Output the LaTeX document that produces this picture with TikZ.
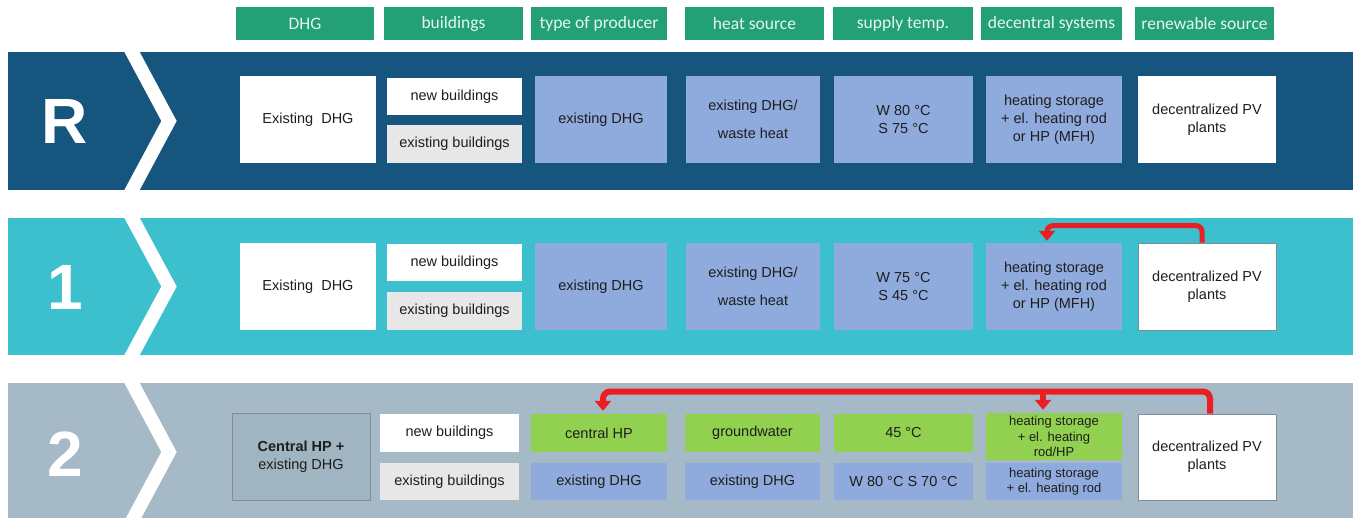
\documentclass[tikz,border=0pt]{standalone}
\usepackage{fontspec}
\setmainfont{Liberation Sans}
\newfontfamily\hdrfont{Carlito}
\usetikzlibrary{arrows.meta,calc}
\definecolor{hdrgreen}{RGB}{36,160,118}
\definecolor{hdrtext}{RGB}{228,246,238}
\definecolor{bandR}{RGB}{22,86,126}
\definecolor{bandOne}{RGB}{60,192,205}
\definecolor{bandTwo}{RGB}{166,185,198}
\definecolor{boxblue}{RGB}{143,170,220}
\definecolor{boxgrey}{RGB}{231,231,231}
\definecolor{boxgreen}{RGB}{146,208,80}
\definecolor{chpfill}{RGB}{160,180,194}
\definecolor{chpline}{RGB}{128,140,150}
\definecolor{arrowred}{RGB}{236,30,36}
\definecolor{txt}{RGB}{30,30,30}
\begin{document}
\begin{tikzpicture}[x=1pt,y=-1pt,
  hdr/.style={fill=hdrgreen,text=hdrtext,font=\hdrfont\fontsize{17.5}{20}\selectfont,minimum height=33pt,inner sep=0pt},
  cell/.style={inner sep=0pt,align=center,text=txt,font=\fontsize{14.5}{18}\selectfont},
  small/.style={font=\fontsize{13}{15.5}\selectfont},
  big/.style={text=white,font=\bfseries\fontsize{64}{64}\selectfont,inner sep=0pt},
  chev/.style={draw=white,line width=13.5pt,miter limit=10},
  redarr/.style={draw=arrowred,line width=5pt,rounded corners=6pt,-{Triangle[width=16pt,length=10pt]}},
  redarrb/.style={draw=arrowred,line width=6pt,rounded corners=7pt,-{Triangle[width=16pt,length=10pt]}}
]
\useasboundingbox (0,0) rectangle (1353,518);
% bands
\fill[bandR] (8,52) rectangle (1353,190);
\fill[bandOne] (8,218) rectangle (1353,355);
\fill[bandTwo] (8,383) rectangle (1353,518);
% chevrons
\draw[chev] (125.6,40) -- (169,121) -- (125.6,202);
\draw[chev] (125.6,206) -- (169,286.5) -- (125.6,367);
\draw[chev] (125.6,371) -- (169,452) -- (125.6,533);
% big labels
\node[big] (lR) at (65,121) {R};
\node[big] (l1) at (65,287) {1};
\node[big] (l2) at (65,454) {2};
% headers
\node[hdr,minimum width=138pt] (hA) at (305,23.5) {DHG};
\node[hdr,minimum width=139pt] (hB) at (453.5,23.5) {buildings};
\node[hdr,minimum width=136pt] (hC) at (599,23.5) {type of producer};
\node[hdr,minimum width=139pt] (hD) at (754.5,23.5) {heat source};
\node[hdr,minimum width=140pt] (hE) at (903,23.5) {supply temp.};
\node[hdr,minimum width=141pt] (hF) at (1051.5,23.5) {decentral systems};
\node[hdr,minimum width=139pt] (hG) at (1204.5,23.5) {renewable source};
% row R
\node[cell,fill=white,minimum width=136pt,minimum height=87pt] (rRa) at (308,119.5) {Existing\ \ DHG};
\node[cell,fill=white,minimum width=135pt,minimum height=37pt] (rRb) at (454.5,96.5) {new buildings};
\node[cell,fill=boxgrey,minimum width=135pt,minimum height=38pt] (rRc) at (454.5,144) {existing buildings};
\node[cell,fill=boxblue,minimum width=132pt,minimum height=87pt] (rRd) at (601,119.5) {existing DHG};
\node[cell,fill=boxblue,minimum width=134pt,minimum height=87pt] (rRe) at (753,119.5) {existing DHG/\\[10pt]waste heat};
\node[cell,fill=boxblue,minimum width=139pt,minimum height=87pt] (rRf) at (903.5,119.5) {W 80 °C\\S 75 °C};
\node[cell,fill=boxblue,minimum width=136pt,minimum height=87pt] (rRg) at (1054,119.5) {heating storage\\+ el. heating rod\\or HP (MFH)};
\node[cell,fill=white,minimum width=138pt,minimum height=87pt] (rRh) at (1207,119.5) {decentralized PV\\plants};
% row 1
\node[cell,fill=white,minimum width=136pt,minimum height=87pt] (r1a) at (308,286.5) {Existing\ \ DHG};
\node[cell,fill=white,minimum width=135pt,minimum height=37pt] (r1b) at (454.5,263) {new buildings};
\node[cell,fill=boxgrey,minimum width=135pt,minimum height=38pt] (r1c) at (454.5,311) {existing buildings};
\node[cell,fill=boxblue,minimum width=132pt,minimum height=87pt] (r1d) at (601,286.5) {existing DHG};
\node[cell,fill=boxblue,minimum width=134pt,minimum height=87pt] (r1e) at (753,286.5) {existing DHG/\\[10pt]waste heat};
\node[cell,fill=boxblue,minimum width=139pt,minimum height=87pt] (r1f) at (903.5,286.5) {W 75 °C\\S 45 °C};
\node[cell,fill=boxblue,minimum width=136pt,minimum height=87pt] (r1g) at (1054,286.5) {heating storage\\+ el. heating rod\\or HP (MFH)};
\node[cell,fill=white,draw=chpline,line width=0.8pt,minimum width=138pt,minimum height=87pt] (r1h) at (1207,286.5) {decentralized PV\\plants};
% row 2
\node[cell,fill=chpfill,draw=chpline,line width=0.8pt,minimum width=138pt,minimum height=87pt] (r2a) at (301,456.5) {\textbf{Central HP +}\\existing DHG};
\node[cell,fill=white,minimum width=139pt,minimum height=38pt] (r2b) at (449.5,433) {new buildings};
\node[cell,fill=boxgrey,minimum width=139pt,minimum height=37pt] (r2c) at (449.5,481.5) {existing buildings};
\node[cell,fill=boxgreen,minimum width=136pt,minimum height=38pt] (r2d) at (599,433) {central HP};
\node[cell,fill=boxblue,minimum width=136pt,minimum height=37pt] (r2e) at (599,481.5) {existing DHG};
\node[cell,fill=boxgreen,minimum width=135pt,minimum height=38pt] (r2f) at (752.5,433) {groundwater};
\node[cell,fill=boxblue,minimum width=135pt,minimum height=37pt] (r2g) at (752.5,481.5) {existing DHG};
\node[cell,fill=boxgreen,minimum width=139pt,minimum height=38pt] (r2h) at (903.5,433) {45 °C};
\node[cell,fill=boxblue,minimum width=139pt,minimum height=37pt] (r2i) at (903.5,481.5) {W 80 °C S 70 °C};
\node[cell,small,fill=boxgreen,minimum width=136pt,minimum height=47pt] (r2j) at (1054,436.5) {heating storage\\+ el. heating\\rod/HP};
\node[cell,small,fill=boxblue,minimum width=136pt,minimum height=37pt] (r2k) at (1054,481.5) {heating storage\\+ el. heating rod};
\node[cell,fill=white,draw=chpline,line width=0.8pt,minimum width=138pt,minimum height=86pt] (r2l) at (1207,457) {decentralized PV\\plants};
% arrows row 1
\draw[redarr] ($(r1h.north)+(-5,0)$) -- ++(0,-17) -| ($(r1g.north)+(-7,-2)$);
% arrows row 2
\coordinate (r2top) at ($(r2l.north)+(3,-22)$);
\coordinate (r2br) at ($(r2j.north)+(-11,-3)$);
\draw[redarrb] ($(r2l.north)+(3,0)$) -- (r2top) -| ($(r2d.north)+(4,-3)$);
\draw[redarrb,rounded corners=0pt] (r2br |- r2top) -- (r2br);
\end{tikzpicture}
\end{document}
